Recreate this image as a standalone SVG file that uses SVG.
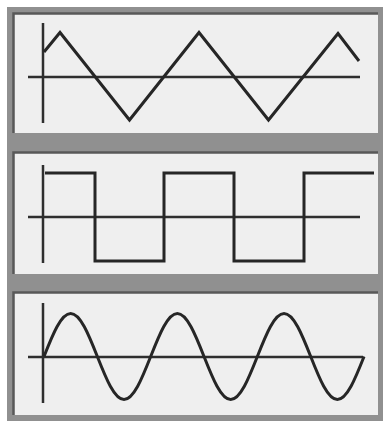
<svg xmlns="http://www.w3.org/2000/svg" width="383" height="421" viewBox="0 0 383 421">
  <style>
    .panel { fill: #efefef; }
    .inset { fill: none; stroke: #585858; stroke-width: 2.5; }
    .axis { fill: none; stroke: #2e2e2e; stroke-width: 2.5; }
    .wave { fill: none; stroke: #262626; stroke-width: 3; stroke-linejoin: miter; }
  </style>
  <rect x="0" y="0" width="383" height="421" fill="#ffffff"/>
  <rect x="7" y="7" width="376" height="414" fill="#909090"/>
  <g id="triangle-panel">
    <rect class="panel" x="13" y="13" width="365" height="120"/>
    <path class="inset" d="M13.5,133 V13.5 H378"/>
    <path class="axis" d="M43,23 V123 M28,77 H360"/>
    <path class="wave" d="M44,52 L60,32.5 L129.5,120 L199,32.5 L268.5,120 L338,33.5 L359,61"/>
  </g>
  <g id="square-panel">
    <rect class="panel" x="13" y="152" width="365" height="122"/>
    <path class="inset" d="M13.5,274 V152.5 H378"/>
    <path class="axis" d="M43,165 V263 M28,217 H360"/>
    <path class="wave" d="M45,173 H95 V261 H164 V173 H234 V261 H304 V173 H374"/>
  </g>
  <g id="sine-panel">
    <rect class="panel" x="13" y="292" width="365" height="123"/>
    <path class="inset" d="M13.5,415 V292.5 H378"/>
    <path class="axis" d="M43,303 V403 M28,357 H363"/>
    <path class="wave" d="M44,356.5
      c 8.70,-22.03 17.06,-43 26.67,-43 c 9.61,0 17.97,20.97 26.67,43 c 8.70,22.03 17.06,43 26.67,43 c 9.61,0 17.97,-20.97 26.67,-43
      c 8.70,-22.03 17.06,-43 26.67,-43 c 9.61,0 17.97,20.97 26.67,43 c 8.70,22.03 17.06,43 26.67,43 c 9.61,0 17.97,-20.97 26.67,-43
      c 8.70,-22.03 17.06,-43 26.67,-43 c 9.61,0 17.97,20.97 26.67,43 c 8.70,22.03 17.06,43 26.67,43 c 9.61,0 17.97,-20.97 26.67,-43"/>
  </g>
</svg>
